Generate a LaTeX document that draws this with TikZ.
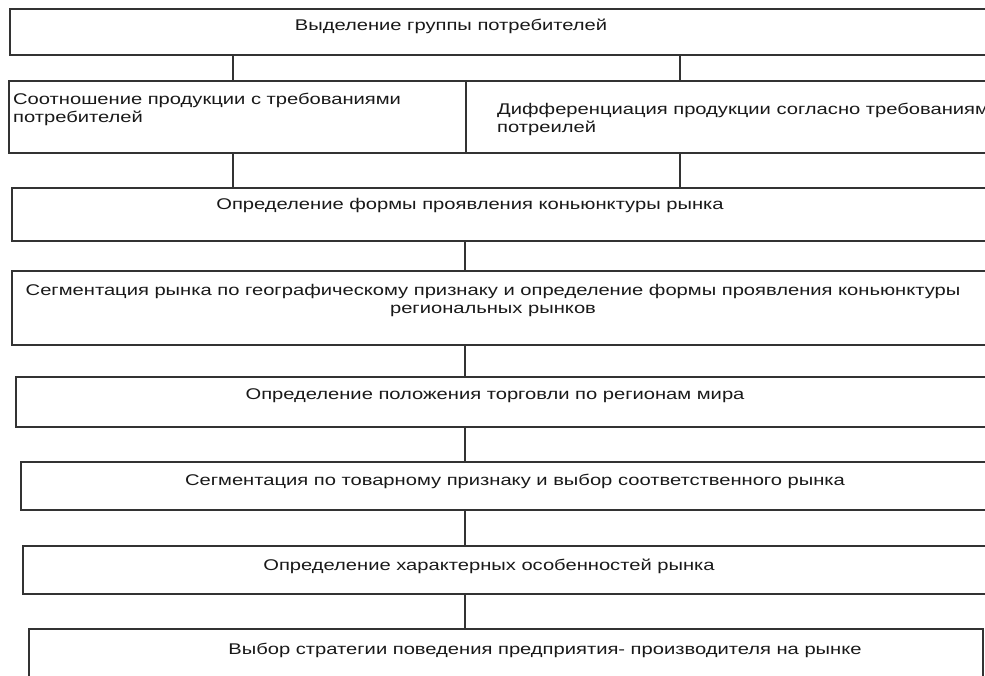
\documentclass[tikz,border=0pt]{standalone}
\usepackage{fontspec}
\setmainfont{Liberation Sans}[FakeStretch=1.3]
\usetikzlibrary{positioning}
\tikzset{
  blok/.style={draw=black!80, line width=1.8pt, inner sep=0pt, anchor=north west},
  nadpis/.style={inner sep=0pt, font=\fontsize{15.5}{18}\selectfont, text=black!90},
  svyaz/.style={draw=black!80, line width=1.8pt},
}
\begin{document}
\begin{tikzpicture}[x=1pt,y=-1pt]
 \useasboundingbox (0,0) rectangle (985,675);
 \clip (0,0) rectangle (985,675);
 % columns of the connectors
 \coordinate (lev) at (233,0);
 \coordinate (prav) at (680,0);
 \coordinate (os) at (465,0);
 % boxes
 \node[blok, minimum width=1000pt, minimum height=46pt] (b1) at (9,8) {};
 \node[blok, minimum width=457pt, minimum height=72pt] (b2a) at (8,80) {};
 \node[blok, minimum width=540pt, minimum height=72pt] (b2b) at (465,80) {};
 \node[blok, minimum width=1000pt, minimum height=53pt] (b3) at (11,187) {};
 \node[blok, minimum width=1000pt, minimum height=74pt] (b4) at (11,270) {};
 \node[blok, minimum width=1000pt, minimum height=50pt] (b5) at (15,376) {};
 \node[blok, minimum width=1000pt, minimum height=48pt] (b6) at (20,461) {};
 \node[blok, minimum width=1000pt, minimum height=48pt] (b7) at (22,545) {};
 \node[blok, minimum width=954pt, minimum height=60pt] (b8) at (28,628) {};
 % texts
 \node[nadpis] (t1) at (451,26) {Выделение группы потребителей};
 \node[nadpis, anchor=north west, align=left] (t2a) at (13,93)
   {Соотношение продукции с требованиями\\потребителей};
 \node[nadpis, anchor=north west, align=left] (t2b) at (497,103)
   {Дифференциация продукции согласно требованиям\\потреилей};
 \node[nadpis] (t3) at (470,205) {Определение формы проявления коньюнктуры рынка};
 \node[nadpis, align=center] (t4) at (493,300)
   {Сегментация рынка по географическому признаку и определение формы проявления коньюнктуры\\региональных рынков};
 \node[nadpis] (t5) at (495,396) {Определение положения торговли по регионам мира};
 \node[nadpis] (t6) at (515,481) {Сегментация по товарному признаку и выбор соответственного рынка};
 \node[nadpis] (t7) at (489,566) {Определение характерных особенностей рынка};
 \node[nadpis] (t8) at (545,650) {Выбор стратегии поведения предприятия- производителя на рынке};
 % connectors
 \draw[svyaz] (b1.south -| lev) -- (b2a.north -| lev);
 \draw[svyaz] (b1.south -| prav) -- (b2b.north -| prav);
 \draw[svyaz] (b2a.south -| lev) -- (b3.north -| lev);
 \draw[svyaz] (b2b.south -| prav) -- (b3.north -| prav);
 \draw[svyaz] (b3.south -| os) -- (b4.north -| os);
 \draw[svyaz] (b4.south -| os) -- (b5.north -| os);
 \draw[svyaz] (b5.south -| os) -- (b6.north -| os);
 \draw[svyaz] (b6.south -| os) -- (b7.north -| os);
 \draw[svyaz] (b7.south -| os) -- (b8.north -| os);
\end{tikzpicture}
\end{document}
